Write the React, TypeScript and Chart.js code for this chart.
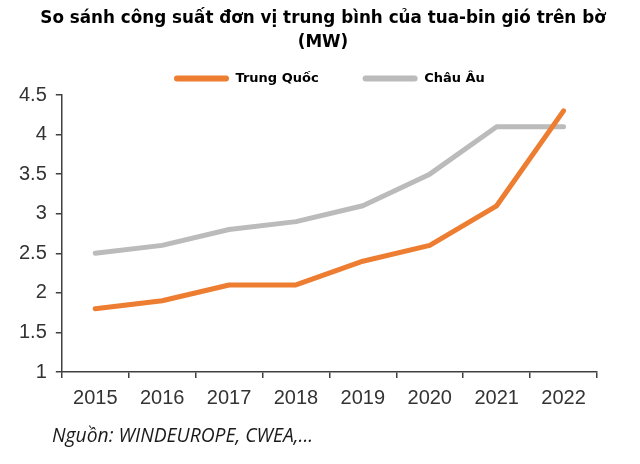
import React, { useEffect, useRef } from 'react';
import { Chart, registerables } from 'chart.js';

Chart.register(...registerables);

const categories = ['2015', '2016', '2017', '2018', '2019', '2020', '2021', '2022'];
const chinaValues = [1.8, 1.9, 2.1, 2.1, 2.4, 2.6, 3.1, 4.3];
const europeValues = [2.5, 2.6, 2.8, 2.9, 3.1, 3.5, 4.1, 4.1];
const seriesNames = ['Trung Quốc', 'Châu Âu'];
const seriesColors = ['#ED7D31', '#BBBBBB'];
const titleLines = ['So sánh công suất đơn vị trung bình của tua-bin gió trên bờ', '(MW)'];
const sourceNote = 'Nguồn: WINDEUROPE, CWEA,...';
const yMin = 1;
const yMax = 4.5;
const yStep = 0.5;

export default function App() {
  const canvasRef = useRef<HTMLCanvasElement | null>(null);

  useEffect(() => {
    document.body.style.margin = '0';
    const canvas = canvasRef.current;
    if (!canvas) return;
    const axisColor = '#404040';
    const tickFont = { family: '"Liberation Sans", Arial, sans-serif', size: 20 };
    const makeDataset = (label: string, data: number[], color: string) => ({
      label,
      data,
      borderColor: color,
      backgroundColor: color,
      borderWidth: 5,
      pointRadius: 0,
      pointHoverRadius: 0,
      tension: 0,
      borderCapStyle: 'round' as const,
      borderJoinStyle: 'round' as const,
      fill: false,
    });
    const chart = new Chart(canvas, {
      type: 'line',
      data: {
        labels: categories,
        datasets: [
          makeDataset(seriesNames[0], chinaValues, seriesColors[0]),
          makeDataset(seriesNames[1], europeValues, seriesColors[1]),
        ],
      },
      options: {
        responsive: false,
        animation: false,
        layout: { padding: { left: 10, right: 4, top: 0, bottom: 46 } },
        plugins: {
          tooltip: { enabled: false },
          title: {
            display: true,
            text: titleLines,
            color: '#000000',
            font: { family: '"DejaVu Sans", sans-serif', size: 16.8, weight: 'bold', lineHeight: 1.42 },
            padding: { top: 6.5, bottom: -26.2 },
          },
          legend: {
            display: true,
            position: 'top',
            fullSize: false,
            labels: {
              color: '#000000',
              font: { family: '"DejaVu Sans", sans-serif', size: 13, weight: 'bold' },
              boxWidth: 55,
              boxHeight: 6,
              padding: 44,
              generateLabels: (ch: any) =>
                ch.data.datasets.map((ds: any, i: number) => ({
                  text: ds.label,
                  fillStyle: ds.borderColor,
                  strokeStyle: ds.borderColor,
                  lineWidth: 0,
                  borderRadius: 3,
                  hidden: false,
                  datasetIndex: i,
                  fontColor: '#000000',
                })),
            },
          },
        },
        scales: {
          x: {
            type: 'category',
            offset: true,
            grid: {
              display: true,
              offset: true,
              drawOnChartArea: false,
              drawTicks: true,
              tickLength: 6,
              color: axisColor,
              lineWidth: 1.5,
            },
            border: { display: true, color: axisColor, width: 1.5 },
            ticks: { color: '#333333', font: tickFont, padding: 8, maxRotation: 0 },
          },
          y: {
            type: 'linear',
            position: 'left',
            min: yMin,
            max: yMax,
            grid: {
              display: true,
              drawOnChartArea: false,
              drawTicks: true,
              tickLength: 6,
              color: axisColor,
              lineWidth: 1.5,
            },
            border: { display: true, color: axisColor, width: 1.5 },
            ticks: {
              stepSize: yStep,
              color: '#333333',
              font: tickFont,
              padding: 9,
              callback: (v: any) => String(Number(v)),
            },
          },
          y2: {
            type: 'linear',
            position: 'right',
            display: true,
            afterFit: (s: any) => {
              s.width = 39;
            },
            grid: { display: false },
            border: { display: false },
            ticks: { display: false },
          },
        },
      },
    });
    return () => chart.destroy();
  }, []);

  return (
    <div style={{ position: 'relative', width: 640, height: 464, background: '#ffffff' }}>
      <canvas ref={canvasRef} width={640} height={464} style={{ display: 'block' }} />
      <div
        style={{
          position: 'absolute',
          left: 52,
          top: 423,
          fontFamily: '"Open Sans", sans-serif',
          fontStyle: 'italic',
          fontSize: 19.3,
          lineHeight: '24px',
          color: '#1a1a1a',
          whiteSpace: 'nowrap',
        }}
      >
        {sourceNote}
      </div>
    </div>
  );
}
